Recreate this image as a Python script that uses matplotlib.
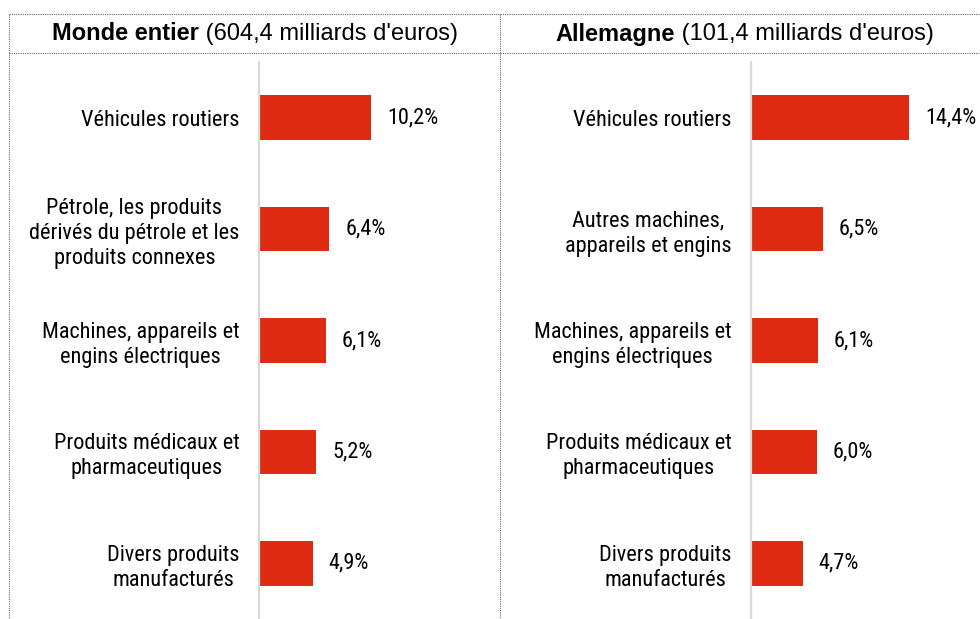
import matplotlib
matplotlib.use('Agg')
import matplotlib.pyplot as plt
from matplotlib import font_manager
from matplotlib.lines import Line2D

# données
titles_bold = ['Monde entier', 'Allemagne']
titles_rest = [" (604,4 milliards d'euros)", " (101,4 milliards d'euros)"]
cats_monde = ['Véhicules routiers',
              'Pétrole, les produits\ndérivés du pétrole et les\nproduits connexes',
              'Machines, appareils et\nengins électriques',
              'Produits médicaux et\npharmaceutiques',
              'Divers produits\nmanufacturés']
vals_monde = [10.2, 6.4, 6.1, 5.2, 4.9]
cats_all = ['Véhicules routiers',
            'Autres machines,\nappareils et engins',
            'Machines, appareils et\nengins électriques',
            'Produits médicaux et\npharmaceutiques',
            'Divers produits\nmanufacturés']
vals_all = [14.4, 6.5, 6.1, 6.0, 4.7]

names = {f.name for f in font_manager.fontManager.ttflist}
narrow = 'Roboto Condensed' if 'Roboto Condensed' in names else 'DejaVu Sans'
regular = 'Liberation Sans' if 'Liberation Sans' in names else 'DejaVu Sans'

W, H = 980, 619
fig = plt.figure(figsize=(W / 100, H / 100), dpi=100)
red = '#DF2A12'
px_per_pct = 11.0


def fx(x):
    return x / W


def fy(y):
    return 1 - y / H


panels = [(259, 490, cats_monde, vals_monde), (751, 980, cats_all, vals_all)]
for left, right, cats, vals in panels:
    ax = fig.add_axes([fx(left), 0, (right - left) / W, fy(62)])
    y = range(len(cats))
    ax.barh(y, vals, height=0.4, color=red)
    ax.set_xlim(0, (right - left) / px_per_pct)
    ax.set_ylim(4.5, -0.5)
    for s in ['top', 'right', 'bottom']:
        ax.spines[s].set_visible(False)
    ax.spines['left'].set_color('#D9D9D9')
    ax.spines['left'].set_linewidth(1.6)
    ax.set_xticks([])
    ax.set_yticks(list(y))
    ax.set_yticklabels(cats, family=narrow, fontsize=16, ma='center', linespacing=1.25)
    ax.tick_params(axis='y', length=0, pad=14)
    for i, v in enumerate(vals):
        ax.text(v + 1.45, i, f'{v:.1f}'.replace('.', ',') + '%', va='center',
                ha='left', family=narrow, fontsize=16)

# cadres pointillés
kw = dict(color='#666666', lw=0.8, linestyle=(0, (1, 1)), transform=fig.transFigure)
fig.add_artist(Line2D([fx(9), 1], [fy(14), fy(14)], **kw))
fig.add_artist(Line2D([fx(9), 1], [fy(53), fy(53)], **kw))
fig.add_artist(Line2D([fx(9), fx(9)], [fy(14), 0], **kw))
fig.add_artist(Line2D([fx(500), fx(500)], [fy(14), 0], **kw))

# titres (gras + normal)
r = fig.canvas.get_renderer()
centers = [255, 745]
for cx, tb, tr in zip(centers, titles_bold, titles_rest):
    t1 = fig.text(0, fy(34), tb, fontweight='bold', fontsize=17, family=regular, va='center')
    t2 = fig.text(0, fy(34), tr, fontsize=17, family=regular, va='center')
    w1 = t1.get_window_extent(r).width
    w2 = t2.get_window_extent(r).width
    x0 = cx - (w1 + w2) / 2
    t1.set_x(fx(x0))
    t2.set_x(fx(x0 + w1))

fig.savefig('out.png', dpi=100)
